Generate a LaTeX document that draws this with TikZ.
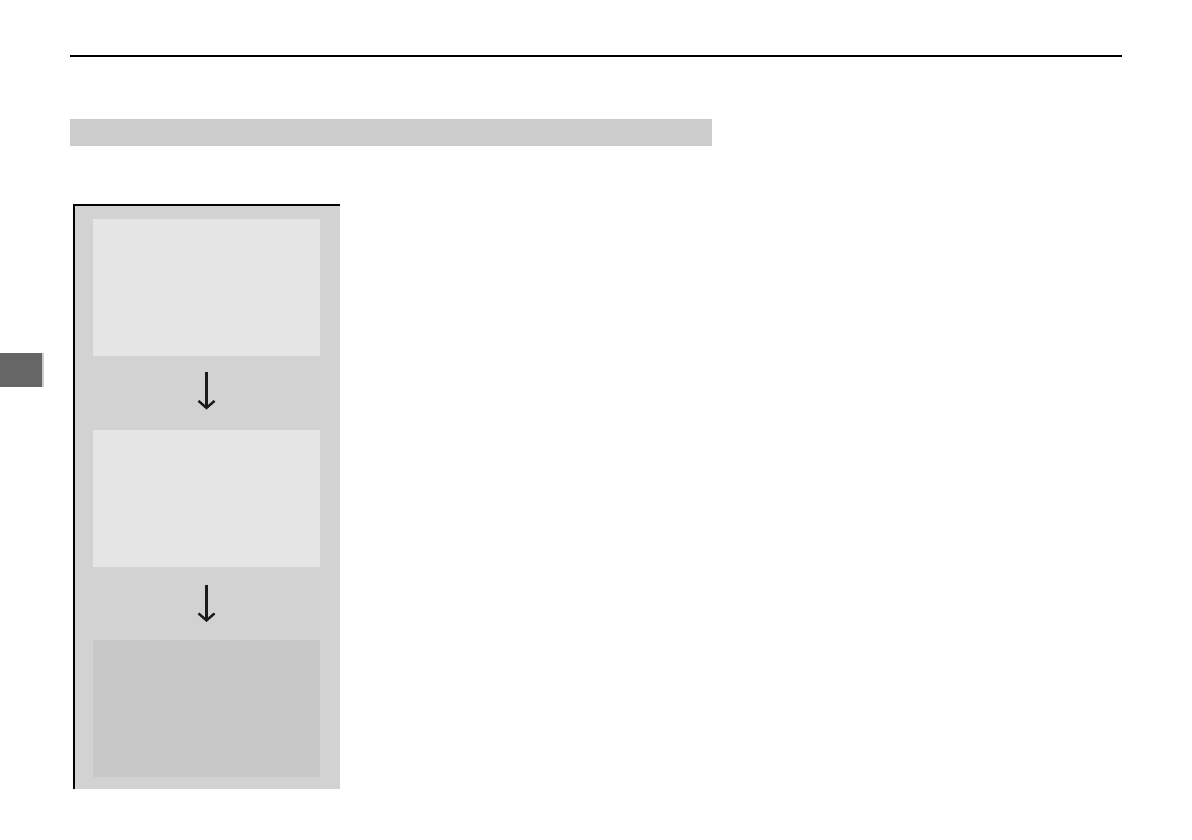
\documentclass[tikz,border=0pt]{standalone}
\usetikzlibrary{arrows.meta}
\definecolor{barfill}{HTML}{CCCCCC}
\definecolor{panelfill}{HTML}{D2D2D2}
\definecolor{lightbox}{HTML}{E5E5E5}
\definecolor{darkbox}{HTML}{C8C8C8}
\definecolor{tabfill}{HTML}{666666}
\definecolor{arrowcol}{HTML}{1A1A1A}
\tikzset{
  stepbox/.style={draw=none, minimum width=227pt, minimum height=137pt, inner sep=0pt, outer sep=0pt},
  flowarrow/.style={arrowcol, line width=2.6pt, -{Straight Barb[length=7pt,width=16pt,line width=2.4pt]}}
}
\begin{document}
\begin{tikzpicture}[x=1pt,y=-1pt]
\useasboundingbox[fill=white] (0,0) rectangle (1192,840);
% header rule
\draw[line width=1.4pt] (70,56) -- (1122,56);
% gray bar
\fill[barfill] (70,119) rectangle (712,146);
% side tab
\fill[tabfill] (0,353) rectangle (42,387);
\fill[barfill] (42,353) rectangle (43.5,387);
% panel
\fill[panelfill] (74,205) rectangle (340,789);
\draw[line width=1.4pt] (74,789) -- (74,205) -- (340,205);
% boxes
\node[stepbox, fill=lightbox] (b1) at (206.5,287.5) {};
\node[stepbox, fill=lightbox] (b2) at (206.5,498) {};
\node[stepbox, fill=darkbox] (b3) at (206.5,708.5) {};
% arrows
\draw[flowarrow] ([yshift=-16pt]b1.south) -- ([yshift=20pt]b2.north);
\draw[flowarrow] ([yshift=-18pt]b2.south) -- ([yshift=18pt]b3.north);
\end{tikzpicture}
\end{document}
